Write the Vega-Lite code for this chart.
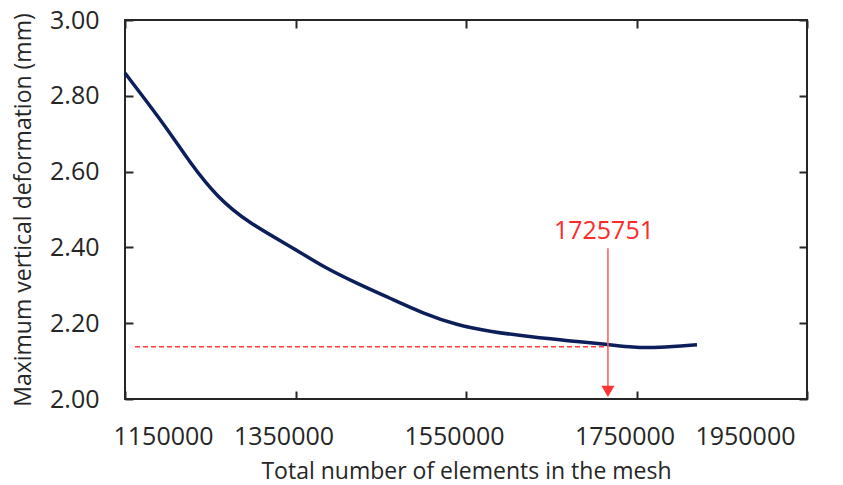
{
  "$schema": "https://vega.github.io/schema/vega-lite/v6.json",
  "width": 682,
  "height": 379,
  "autosize": {"type": "none"},
  "padding": {"left": 125, "top": 20, "right": 36, "bottom": 86},
  "background": "white",
  "config": {
    "view": {"stroke": "#262626", "strokeWidth": 2},
    "font": "Open Sans",
    "axis": {"grid": false, "domain": false, "tickColor": "#262626", "tickWidth": 2, "tickSize": -8, "labelFont": "Open Sans", "labelFontSize": 25, "labelColor": "#262626", "titleFont": "Open Sans", "titleFontSize": 23, "titleFontWeight": "normal", "titleColor": "#262626"}
  },
  "datasets": {
    "curve": [
      {"elements": 1150000, "deformation": 2.860},
      {"elements": 1199266, "deformation": 2.715},
      {"elements": 1226245, "deformation": 2.623},
      {"elements": 1257916, "deformation": 2.533},
      {"elements": 1293106, "deformation": 2.467},
      {"elements": 1351756, "deformation": 2.393},
      {"elements": 1382254, "deformation": 2.349},
      {"elements": 1422136, "deformation": 2.305},
      {"elements": 1460845, "deformation": 2.266},
      {"elements": 1499554, "deformation": 2.226},
      {"elements": 1539436, "deformation": 2.195},
      {"elements": 1578145, "deformation": 2.178},
      {"elements": 1628584, "deformation": 2.163},
      {"elements": 1668467, "deformation": 2.154},
      {"elements": 1716561, "deformation": 2.144},
      {"elements": 1745886, "deformation": 2.136},
      {"elements": 1774038, "deformation": 2.135},
      {"elements": 1820959, "deformation": 2.143}
    ],
    "refline": [{"x1": 1161700, "x2": 1716500, "y": 2.138}],
    "arrow": [{"x": 1716500, "y1": 2.398, "y2": 2.03, "tip": 2.02, "labelY": 2.442, "label": "1725751"}]
  },
  "layer": [
    {
      "data": {"name": "curve"},
      "mark": {"type": "line", "interpolate": "basis", "color": "#0c1f5b", "strokeWidth": 3.5},
      "encoding": {
        "x": {"field": "elements", "type": "quantitative", "scale": {"domain": [1150000, 1950000], "nice": false, "zero": false},
              "axis": {"orient": "bottom", "title": "Total number of elements in the mesh", "values": [1150000, 1350000, 1550000, 1750000, 1950000], "format": "d", "labelPadding": 33, "labelOffset": -12, "titlePadding": 11}},
        "y": {"field": "deformation", "type": "quantitative", "scale": {"domain": [2, 3], "nice": false, "zero": false},
              "axis": {"orient": "left", "title": "Maximum vertical deformation (mm)", "values": [2, 2.2, 2.4, 2.6, 2.8, 3], "format": ".2f", "labelPadding": 34, "titlePadding": 14}}
      }
    },
    {
      "data": {"name": "refline"},
      "mark": {"type": "rule", "color": "#ff3b3b", "strokeWidth": 1.5, "strokeDash": [5, 3]},
      "encoding": {
        "x": {"field": "x1", "type": "quantitative", "axis": null},
        "x2": {"field": "x2"},
        "y": {"field": "y", "type": "quantitative", "axis": null}
      }
    },
    {
      "data": {"name": "arrow"},
      "mark": {"type": "rule", "color": "#ff5a5a", "strokeWidth": 1.5},
      "encoding": {
        "x": {"field": "x", "type": "quantitative", "axis": null},
        "y": {"field": "y1", "type": "quantitative", "axis": null},
        "y2": {"field": "y2"}
      }
    },
    {
      "data": {"name": "arrow"},
      "mark": {"type": "point", "shape": "triangle-down", "filled": true, "color": "#ff3333", "size": 170, "opacity": 1},
      "encoding": {
        "x": {"field": "x", "type": "quantitative", "axis": null},
        "y": {"field": "tip", "type": "quantitative", "axis": null}
      }
    },
    {
      "data": {"name": "arrow"},
      "mark": {"type": "text", "color": "#ff2a2a", "fontSize": 25, "font": "Open Sans", "baseline": "middle", "align": "center", "dx": -4},
      "encoding": {
        "x": {"field": "x", "type": "quantitative", "axis": null},
        "y": {"field": "labelY", "type": "quantitative", "axis": null},
        "text": {"field": "label"}
      }
    },
    {
      "data": {"name": "curve"},
      "mark": {"type": "point", "opacity": 0},
      "encoding": {
        "x": {"field": "elements", "type": "quantitative", "axis": {"orient": "top", "title": null, "labels": false, "values": [1150000, 1350000, 1550000, 1750000, 1950000]}},
        "y": {"field": "deformation", "type": "quantitative", "axis": {"orient": "right", "title": null, "labels": false, "values": [2, 2.2, 2.4, 2.6, 2.8, 3]}}
      }
    }
  ],
  "resolve": {"axis": {"x": "independent", "y": "independent"}}
}
